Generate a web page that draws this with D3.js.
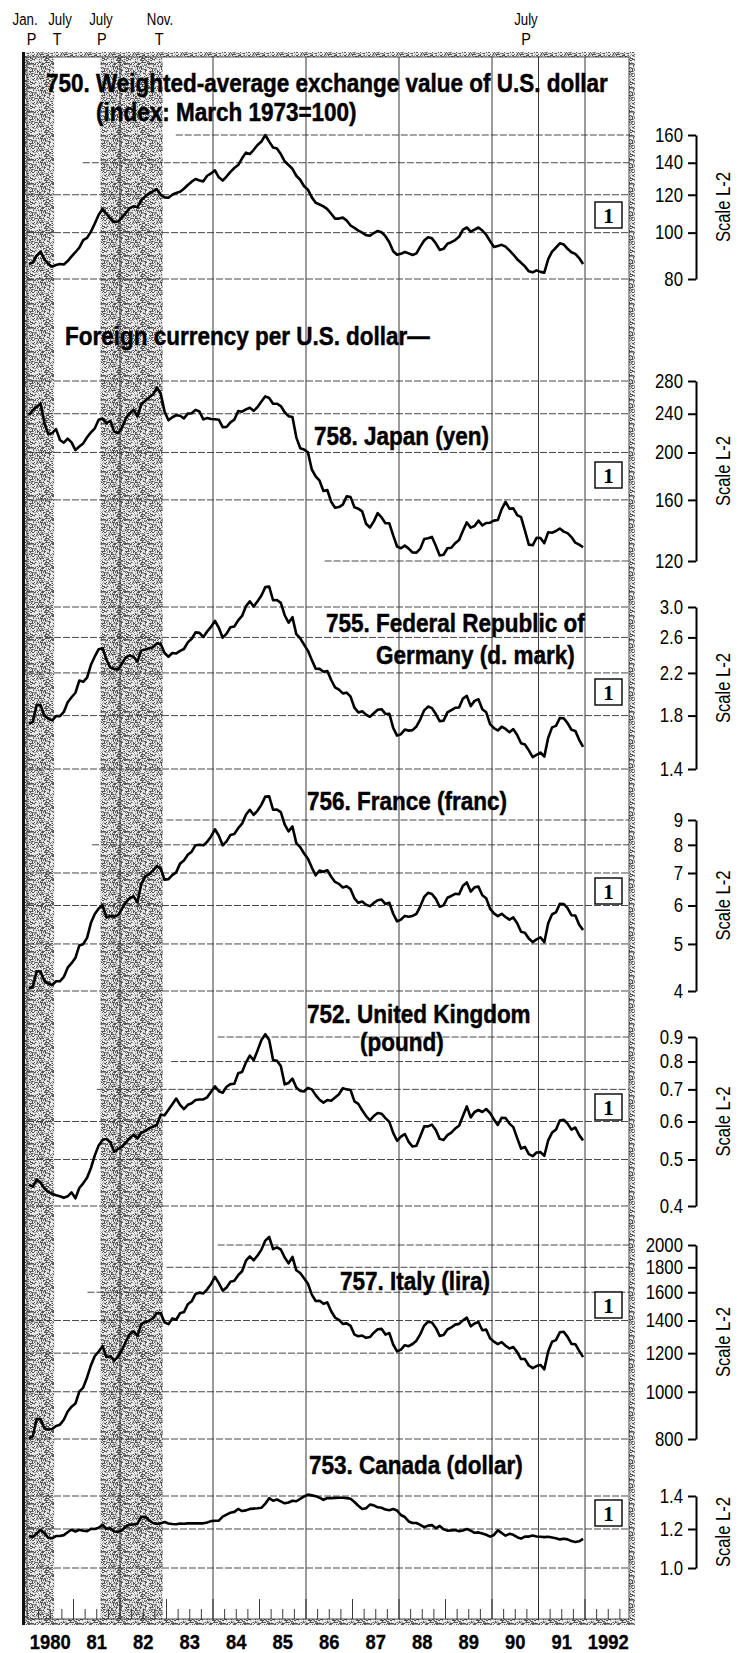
<!DOCTYPE html>
<html>
<head>
<meta charset="utf-8">
<script src="https://cdn.jsdelivr.net/npm/d3@7"></script>
<style>
html, body { margin: 0; padding: 0; background: #fff; }
svg { display: block; }
</style>
</head>
<body>
<div id="chart"></div>
<script>
// monthly values, Jan 1980 .. Dec 1991
var idx750 = [
  86.0, 86.6, 89.5, 91.3, 88.0, 86.0, 84.9, 85.6, 86.0, 85.8, 87.2, 89.2,
  91.0, 93.0, 96.5, 97.5, 100.5, 104.5, 109.0, 112.0, 109.5, 107.0, 105.2, 105.5,
  107.5, 110.0, 112.5, 113.5, 113.0, 117.0, 119.0, 120.8, 122.0, 123.3, 120.0, 118.5,
  118.3, 120.0, 121.0, 121.7, 123.5, 125.8, 127.8, 129.5, 128.5, 128.0, 131.5, 133.0,
  135.0, 130.5, 128.5, 131.0, 134.0, 136.5, 138.5, 143.0, 147.0, 146.0, 149.0, 152.5,
  155.0, 160.0, 155.0, 150.7, 150.0, 146.0, 141.0, 138.5, 136.0, 131.5, 129.0, 125.0,
  123.0, 118.5, 115.5, 114.5, 113.5, 112.0, 109.5, 107.0, 107.0, 107.5, 106.0, 103.5,
  102.3, 101.0, 100.0, 98.8, 98.5, 99.8, 100.8, 100.2, 98.3, 95.5, 91.4, 89.9,
  90.3, 91.1, 90.5, 89.8, 90.5, 93.5, 96.3, 97.8, 97.3, 95.0, 92.0, 92.5,
  94.8, 95.5, 96.5, 98.0, 101.5, 102.5, 100.5, 101.5, 102.5, 101.0, 99.0, 96.0,
  93.3, 93.8, 94.3, 93.5, 91.8, 90.0, 88.0, 86.5, 85.0, 83.0, 82.6, 83.4,
  82.8, 82.5, 88.0, 91.3, 93.0, 95.0, 94.5, 92.5, 91.0, 90.3, 88.5, 86.0
];
var yen758 = [
  238.6, 244.0, 248.1, 251.8, 229.7, 217.8, 219.1, 223.2, 212.1, 209.4, 213.5, 209.8,
  202.2, 205.7, 208.7, 214.9, 219.9, 224.1, 233.3, 234.6, 229.6, 232.2, 220.6, 219.0,
  224.6, 234.9, 240.4, 244.5, 236.9, 251.1, 255.1, 259.0, 262.7, 271.3, 264.1, 242.4,
  232.7, 236.1, 238.3, 237.7, 234.8, 240.1, 240.5, 244.4, 242.6, 233.7, 235.3, 234.2,
  233.9, 233.4, 225.4, 225.5, 230.5, 233.4, 243.1, 242.3, 245.0, 246.9, 243.3, 247.7,
  254.2, 260.5, 258.4, 251.7, 251.6, 248.9, 241.7, 237.3, 236.4, 214.8, 204.1, 202.8,
  200.1, 184.6, 178.7, 175.1, 166.9, 167.6, 158.6, 154.2, 154.7, 156.5, 162.7, 162.1,
  154.5, 153.5, 151.6, 143.0, 140.5, 144.6, 150.3, 147.3, 143.3, 143.3, 135.4, 128.5,
  127.4, 129.0, 127.2, 124.9, 124.8, 127.2, 133.1, 133.6, 134.4, 128.9, 123.2, 123.6,
  127.4, 127.7, 130.5, 132.5, 138.4, 143.9, 140.4, 141.5, 145.1, 141.9, 143.5, 143.7,
  145.1, 145.5, 153.2, 158.5, 153.5, 153.7, 149.0, 147.5, 138.4, 129.6, 129.2, 133.9,
  133.7, 130.5, 137.4, 137.1, 138.2, 139.8, 137.8, 136.8, 134.3, 130.8, 129.6, 128.0
];
var mark755 = [
  1.732, 1.747, 1.893, 1.889, 1.798, 1.773, 1.760, 1.796, 1.795, 1.831, 1.916, 1.962,
  2.004, 2.122, 2.110, 2.153, 2.286, 2.377, 2.460, 2.472, 2.342, 2.257, 2.241, 2.235,
  2.301, 2.367, 2.389, 2.374, 2.321, 2.446, 2.456, 2.471, 2.482, 2.529, 2.519, 2.416,
  2.374, 2.416, 2.410, 2.441, 2.462, 2.540, 2.584, 2.662, 2.656, 2.605, 2.674, 2.733,
  2.811, 2.721, 2.597, 2.646, 2.727, 2.738, 2.817, 2.877, 3.011, 3.081, 3.008, 3.082,
  3.167, 3.294, 3.302, 3.097, 3.101, 3.059, 2.886, 2.787, 2.860, 2.640, 2.590, 2.513,
  2.441, 2.337, 2.245, 2.242, 2.212, 2.219, 2.128, 2.056, 2.034, 1.998, 2.005, 1.968,
  1.868, 1.827, 1.837, 1.808, 1.790, 1.820, 1.850, 1.855, 1.814, 1.816, 1.699, 1.638,
  1.649, 1.685, 1.677, 1.681, 1.710, 1.769, 1.845, 1.878, 1.864, 1.813, 1.753, 1.758,
  1.827, 1.847, 1.867, 1.870, 1.950, 1.975, 1.882, 1.929, 1.943, 1.855, 1.828, 1.729,
  1.696, 1.678, 1.708, 1.690, 1.665, 1.689, 1.643, 1.580, 1.571, 1.528, 1.481, 1.497,
  1.513, 1.484, 1.621, 1.703, 1.715, 1.779, 1.778, 1.737, 1.684, 1.675, 1.606, 1.553
];
var franc756 = [
  4.043, 4.081, 4.394, 4.389, 4.192, 4.144, 4.116, 4.190, 4.189, 4.275, 4.468, 4.564,
  4.682, 4.964, 4.995, 5.147, 5.527, 5.763, 5.913, 6.007, 5.670, 5.707, 5.691, 5.732,
  5.904, 6.092, 6.217, 6.266, 6.093, 6.647, 6.883, 6.959, 7.080, 7.233, 7.154, 6.780,
  6.799, 6.930, 7.020, 7.318, 7.429, 7.631, 7.744, 7.986, 8.003, 7.981, 8.117, 8.324,
  8.612, 8.352, 7.981, 8.134, 8.384, 8.420, 8.657, 8.843, 9.226, 9.445, 9.217, 9.412,
  9.678, 10.055, 10.066, 9.448, 9.452, 9.341, 8.810, 8.526, 8.729, 8.064, 7.915, 7.677,
  7.488, 7.183, 6.924, 7.085, 7.042, 7.097, 6.877, 6.709, 6.649, 6.536, 6.576, 6.484,
  6.208, 6.077, 6.112, 6.021, 5.982, 6.074, 6.151, 6.172, 6.042, 6.079, 5.770, 5.565,
  5.613, 5.711, 5.690, 5.710, 5.769, 5.977, 6.249, 6.372, 6.337, 6.191, 5.965, 6.003,
  6.225, 6.278, 6.342, 6.327, 6.592, 6.695, 6.410, 6.540, 6.562, 6.299, 6.212, 5.913,
  5.780, 5.707, 5.768, 5.682, 5.613, 5.669, 5.515, 5.299, 5.274, 5.132, 5.044, 5.108,
  5.160, 5.041, 5.517, 5.756, 5.807, 6.047, 6.044, 5.925, 5.729, 5.721, 5.475, 5.340
];
var pound752 = [
  0.443, 0.439, 0.454, 0.447, 0.435, 0.428, 0.424, 0.421, 0.419, 0.416, 0.419, 0.427,
  0.415, 0.436, 0.446, 0.458, 0.480, 0.510, 0.535, 0.549, 0.552, 0.543, 0.519, 0.526,
  0.531, 0.542, 0.554, 0.563, 0.553, 0.569, 0.573, 0.581, 0.585, 0.590, 0.620, 0.618,
  0.635, 0.652, 0.670, 0.650, 0.637, 0.650, 0.655, 0.665, 0.667, 0.667, 0.674, 0.692,
  0.710, 0.694, 0.689, 0.709, 0.718, 0.719, 0.756, 0.761, 0.796, 0.823, 0.805, 0.844,
  0.887, 0.912, 0.887, 0.806, 0.803, 0.783, 0.717, 0.722, 0.737, 0.706, 0.695, 0.693,
  0.705, 0.700, 0.681, 0.666, 0.657, 0.665, 0.663, 0.673, 0.684, 0.704, 0.700, 0.698,
  0.661, 0.653, 0.633, 0.616, 0.603, 0.616, 0.625, 0.623, 0.610, 0.599, 0.568, 0.547,
  0.558, 0.565, 0.544, 0.532, 0.534, 0.559, 0.586, 0.586, 0.591, 0.576, 0.552, 0.549,
  0.562, 0.569, 0.580, 0.588, 0.616, 0.645, 0.612, 0.628, 0.634, 0.628, 0.637, 0.625,
  0.606, 0.590, 0.611, 0.610, 0.594, 0.584, 0.554, 0.527, 0.531, 0.513, 0.508, 0.517,
  0.518, 0.509, 0.548, 0.569, 0.577, 0.603, 0.605, 0.594, 0.577, 0.583, 0.562, 0.548
];
var lira757 = [
  802, 811, 880, 878, 841, 837, 839, 851, 856, 876, 911, 932,
  946, 1001, 1020, 1070, 1133, 1184, 1209, 1240, 1178, 1183, 1158, 1180,
  1218, 1268, 1313, 1330, 1302, 1377, 1389, 1399, 1415, 1451, 1448, 1388,
  1376, 1414, 1405, 1449, 1457, 1512, 1533, 1587, 1597, 1591, 1622, 1664,
  1720, 1670, 1612, 1637, 1681, 1690, 1734, 1767, 1857, 1895, 1861, 1903,
  1957, 2042, 2077, 1961, 1978, 1958, 1885, 1834, 1891, 1775, 1752, 1710,
  1666, 1582, 1535, 1537, 1516, 1525, 1463, 1420, 1405, 1378, 1381, 1365,
  1310, 1300, 1304, 1290, 1295, 1322, 1343, 1346, 1310, 1320, 1250, 1210,
  1220, 1246, 1240, 1253, 1273, 1313, 1367, 1392, 1387, 1352, 1302, 1307,
  1342, 1355, 1373, 1378, 1401, 1419, 1362, 1380, 1390, 1337, 1341, 1288,
  1267, 1252, 1264, 1243, 1227, 1235, 1206, 1167, 1167, 1132, 1118, 1129,
  1135, 1112, 1210, 1266, 1276, 1324, 1328, 1296, 1254, 1252, 1213, 1178
];
var cad753 = [
  1.163, 1.155, 1.175, 1.194, 1.177, 1.151, 1.150, 1.161, 1.161, 1.166, 1.182, 1.196,
  1.186, 1.196, 1.190, 1.188, 1.201, 1.200, 1.207, 1.224, 1.201, 1.204, 1.186, 1.185,
  1.192, 1.214, 1.224, 1.226, 1.230, 1.270, 1.271, 1.250, 1.234, 1.229, 1.232, 1.240,
  1.231, 1.228, 1.227, 1.231, 1.230, 1.232, 1.232, 1.233, 1.232, 1.232, 1.237, 1.245,
  1.247, 1.248, 1.271, 1.283, 1.295, 1.300, 1.318, 1.305, 1.309, 1.318, 1.320, 1.322,
  1.325, 1.351, 1.386, 1.369, 1.377, 1.365, 1.353, 1.358, 1.369, 1.366, 1.381, 1.397,
  1.409, 1.404, 1.399, 1.389, 1.375, 1.387, 1.386, 1.388, 1.389, 1.389, 1.386, 1.382,
  1.361, 1.338, 1.318, 1.322, 1.345, 1.340, 1.328, 1.325, 1.314, 1.310, 1.317, 1.308,
  1.281, 1.269, 1.243, 1.234, 1.234, 1.223, 1.210, 1.219, 1.222, 1.204, 1.217, 1.199,
  1.191, 1.192, 1.194, 1.188, 1.192, 1.200, 1.191, 1.179, 1.181, 1.175, 1.168, 1.158,
  1.167, 1.192, 1.178, 1.163, 1.173, 1.168, 1.155, 1.147, 1.158, 1.158, 1.164, 1.159,
  1.157, 1.155, 1.157, 1.153, 1.149, 1.143, 1.147, 1.143, 1.134, 1.129, 1.133, 1.146
];

var yearLabels = ["1980", "81", "82", "83", "84", "85", "86", "87", "88", "89", "90", "91", "1992"];
var recessions = [[1980.0, 1980.583], [1981.583, 1982.917]];
var yearGrid = [1982, 1984, 1986, 1988, 1990, 1991, 1992];
var turnMonths = [{ t: 1979.96, s: "Jan." }, { t: 1980.71, s: "July" }, { t: 1981.59, s: "July" },
                  { t: 1982.86, s: "Nov." }, { t: 1990.73, s: "July" }];
var turnTypes = [{ t: 1980.10, s: "P" }, { t: 1980.65, s: "T" }, { t: 1981.61, s: "P" },
                 { t: 1982.84, s: "T" }, { t: 1990.73, s: "P" }];

var W = 748, H = 1653;
var FONT = "'Liberation Sans', Arial, Helvetica, sans-serif";

//layout of the seven panels
var panels = [
  { values: idx750, ticks: [80, 100, 120, 140, 160], yTop: 135, yBot: 279, fmt: d3.format("d"),
    gridFrom: { 160: 1983.2, 140: 1981.2 }, box: 215,
    titles: [{ s: "750. Weighted-average exchange value of  U.S. dollar", x: 46, y: 92 },
             { s: "(index: March 1973=100)", x: 96, y: 121 }] },
  { values: yen758, ticks: [120, 160, 200, 240, 280], yTop: 381, yBot: 561, fmt: d3.format("d"),
    gridFrom: { 120: 1986.4 }, box: 475,
    titles: [{ s: "Foreign currency per U.S. dollar\u2014", x: 65, y: 345 },
             { s: "758.  Japan (yen)", x: 314, y: 445 }] },
  { values: mark755, ticks: [1.4, 1.8, 2.2, 2.6, 3.0], yTop: 607, yBot: 769, fmt: d3.format(".1f"),
    gridFrom: {}, box: 692,
    titles: [{ s: "755. Federal Republic of", x: 326, y: 632 },
             { s: "Germany (d. mark)", x: 376, y: 664 }] },
  { values: franc756, ticks: [4, 5, 6, 7, 8, 9], yTop: 820, yBot: 991, fmt: d3.format("d"),
    gridFrom: { 9: 1983.0, 8: 1981.4 }, box: 891,
    titles: [{ s: "756. France (franc)", x: 307, y: 810 }] },
  { values: pound752, ticks: [0.4, 0.5, 0.6, 0.7, 0.8, 0.9], yTop: 1037, yBot: 1206, fmt: d3.format(".1f"),
    gridFrom: { 0.9: 1984.1, 0.8: 1983.1, 0.7: 1981.5 }, box: 1107,
    titles: [{ s: "752. United Kingdom", x: 307, y: 1023 },
             { s: "(pound)", x: 360, y: 1051 }] },
  { values: lira757, ticks: [800, 1000, 1200, 1400, 1600, 1800, 2000], yTop: 1245, yBot: 1439, fmt: d3.format("d"),
    gridFrom: { 2000: 1984.1, 1800: 1983.0, 1600: 1981.3 }, box: 1305,
    titles: [{ s: "757. Italy (lira)", x: 340, y: 1290 }] },
  { values: cad753, ticks: [1.0, 1.2, 1.4], yTop: 1496, yBot: 1568, fmt: d3.format(".1f"),
    gridFrom: {}, box: 1513,
    titles: [{ s: "753. Canada (dollar)", x: 309, y: 1474 }] }
];

var frame = { left: 22, right: 635, top: 52, bottom: 1625, border: 5 };
var inner = { left: 27, right: 629, top: 57, bottom: 1619 };
var axisX = 696;

var x = d3.scaleLinear().domain([1980, 1993]).range([27, 631.5]);
var monthT = function (i) { return 1980 + (i + 0.5) / 12; };

var svg = d3.select("#chart").append("svg")
    .attr("width", W)
    .attr("height", H)
    .style("font-family", FONT);

svg.append("rect").attr("width", W).attr("height", H).attr("fill", "#fff");

//grainy texture for the recession bands and the frame (fixed LCG so it is the same every run)
var defs = svg.append("defs");
var TILE = 24;
var pat = defs.append("pattern")
    .attr("id", "stipple")
    .attr("width", TILE).attr("height", TILE)
    .attr("patternUnits", "userSpaceOnUse");
pat.append("rect").attr("width", TILE).attr("height", TILE).attr("fill", "#e2e2e2");
var seed = 12345;
function lcg() { seed = (seed * 1103515245 + 12345) % 2147483648; return seed / 2147483648; }
var grain = [];
for (var gy = 0; gy < TILE; gy++) {
  for (var gx = 0; gx < TILE; gx++) {
    var r = lcg();
    if (r < 0.3) grain.push([gx, gy, "#555555"]);
    else if (r < 0.45) grain.push([gx, gy, "#9a9a9a"]);
    else if (r > 0.88) grain.push([gx, gy, "#ffffff"]);
  }
}
pat.selectAll("rect.g")
    .data(grain)
    .join("rect")
    .attr("class", "g")
    .attr("x", function (d) { return d[0]; })
    .attr("y", function (d) { return d[1]; })
    .attr("width", 1).attr("height", 1)
    .attr("fill", function (d) { return d[2]; });

// condensed text: draw at origin and squeeze horizontally
function label(parent, px, py, s, o) {
  o = o || {};
  var tf = "translate(" + px + "," + py + ")" + (o.rot ? " rotate(" + o.rot + ")" : "") + " scale(" + (o.sx || 1) + ",1)";
  return parent.append("text")
      .attr("transform", tf)
      .attr("text-anchor", o.anchor || "start")
      .attr("font-size", o.size || 16)
      .attr("font-weight", o.weight || "normal")
      .attr("font-family", o.family || FONT)
      .attr("dy", o.dy || null)
      .attr("fill", "#000")
      .attr("stroke", o.stroke ? "#000" : null)
      .attr("stroke-width", o.stroke || null)
      .text(s);
}

//Recession shading
svg.append("g").selectAll("rect")
    .data(recessions)
    .join("rect")
    .attr("x", function (d) { return x(d[0]); })
    .attr("width", function (d) { return x(d[1]) - x(d[0]); })
    .attr("y", inner.top)
    .attr("height", inner.bottom - inner.top)
    .attr("fill", "url(#stipple)");

//vertical year lines
svg.append("g").selectAll("line")
    .data(yearGrid)
    .join("line")
    .attr("x1", function (d) { return x(d); })
    .attr("x2", function (d) { return x(d); })
    .attr("y1", inner.top)
    .attr("y2", inner.bottom)
    .attr("stroke", "#222")
    .attr("stroke-width", 0.9);

//bottom quarter ticks
svg.append("g").selectAll("line")
    .data(d3.range(0, 13 * 4 + 1))
    .join("line")
    .attr("x1", function (q) { return x(1980 + q / 4); })
    .attr("x2", function (q) { return x(1980 + q / 4); })
    .attr("y1", inner.bottom)
    .attr("y2", function (q) { return inner.bottom - (q % 4 === 0 ? 20 : 10); })
    .attr("stroke", "#222")
    .attr("stroke-width", 0.9);

panels.forEach(function (p) {
  var g = svg.append("g");
  var y = d3.scaleLog()
      .domain([p.ticks[0], p.ticks[p.ticks.length - 1]])
      .range([p.yBot, p.yTop]);

  //horizontal dashed grid
  g.selectAll("line.grid")
      .data(p.ticks)
      .join("line")
      .attr("class", "grid")
      .attr("x1", function (d) { return x(p.gridFrom[d] || 1980); })
      .attr("x2", inner.right)
      .attr("y1", function (d) { return y(d); })
      .attr("y2", function (d) { return y(d); })
      .attr("stroke", "#333")
      .attr("stroke-width", 0.9)
      .attr("stroke-dasharray", "7,2");

  //series line
  var line = d3.line()
      .x(function (d, i) { return x(monthT(i)); })
      .y(function (d) { return y(d); });
  g.append("path")
      .datum(p.values)
      .attr("d", line)
      .attr("fill", "none")
      .attr("stroke", "#000")
      .attr("stroke-width", 2.6)
      .attr("stroke-linejoin", "round");

  //titles
  p.titles.forEach(function (t) {
    label(g, t.x, t.y, t.s, { size: 25, weight: "bold", sx: 0.9, stroke: 0.45 });
  });

  //boxed "1"
  g.append("rect")
      .attr("x", 595).attr("y", p.box - 13)
      .attr("width", 27).attr("height", 26)
      .attr("fill", "#fff")
      .attr("stroke", "#000")
      .attr("stroke-width", 1.4);
  label(g, 608.5, p.box + 7.5, "1", { size: 21, weight: "bold", anchor: "middle", family: "'Liberation Serif', 'Times New Roman', serif" });

  //right scale
  var axis = d3.axisLeft(y)
      .tickValues(p.ticks)
      .tickFormat(p.fmt)
      .tickSizeInner(8)
      .tickSizeOuter(0)
      .tickPadding(5);
  var ag = g.append("g")
      .attr("transform", "translate(" + axisX + ",0)")
      .call(axis);
  ag.select(".domain").attr("stroke", "#000").attr("stroke-width", 2);
  ag.selectAll(".tick line").attr("stroke", "#000").attr("stroke-width", 2);
  ag.selectAll(".tick text")
      .attr("x", 0)
      .attr("transform", "translate(-13,0) scale(0.86,1)")
      .attr("font-size", 19.5)
      .attr("font-family", FONT)
      .attr("fill", "#000");

  label(g, 723, (p.yTop + p.yBot) / 2, "Scale L-2", { size: 20, rot: -90, sx: 0.83, anchor: "middle", dy: "0.35em" });
});

//frame
var fg = svg.append("g");
fg.append("rect").attr("x", frame.left).attr("y", frame.top).attr("width", frame.right - frame.left).attr("height", frame.border).attr("fill", "url(#stipple)");
fg.append("rect").attr("x", frame.left).attr("y", frame.bottom - frame.border - 1).attr("width", frame.right - frame.left).attr("height", frame.border + 1).attr("fill", "url(#stipple)");
fg.append("rect").attr("x", frame.left).attr("y", frame.top).attr("width", frame.border).attr("height", frame.bottom - frame.top).attr("fill", "url(#stipple)");
fg.append("rect").attr("x", frame.right - frame.border - 1).attr("y", frame.top).attr("width", frame.border + 1).attr("height", frame.bottom - frame.top).attr("fill", "url(#stipple)");
fg.append("rect").attr("x", frame.left).attr("y", frame.top).attr("width", 3).attr("height", frame.bottom - frame.top).attr("fill", "#111");
fg.append("rect")
    .attr("x", inner.left).attr("y", inner.top)
    .attr("width", inner.right - inner.left).attr("height", inner.bottom - inner.top)
    .attr("fill", "none").attr("stroke", "#222").attr("stroke-width", 0.8);

//turning point labels on top
turnMonths.forEach(function (d) {
  label(svg, x(d.t), 25, d.s, { size: 17, anchor: "middle", sx: 0.78 });
});
turnTypes.forEach(function (d) {
  label(svg, x(d.t), 45, d.s, { size: 17, anchor: "middle", sx: 0.85 });
});

//year labels
yearLabels.forEach(function (s, i) {
  label(svg, x(1980 + i + 0.5), 1649, s, { size: 20, weight: "bold", anchor: "middle", sx: 0.92, stroke: 0.3 });
});
</script>
</body>
</html>
